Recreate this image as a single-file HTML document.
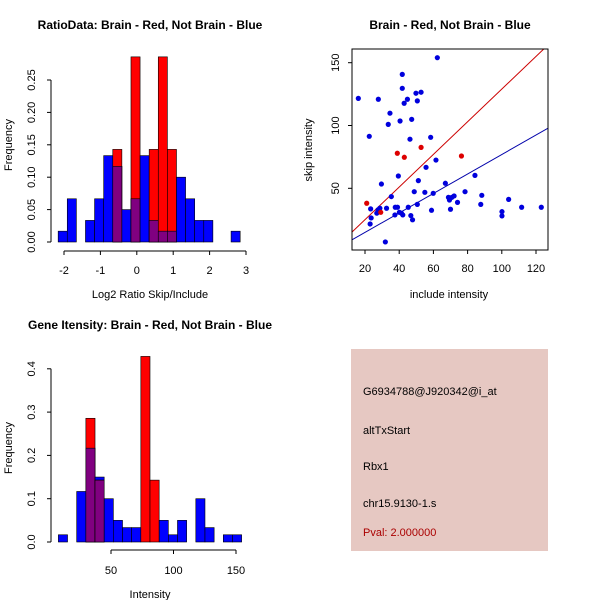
<!DOCTYPE html>
<html><head><meta charset="utf-8"><style>
body{margin:0;background:#fff}
svg{display:block;font-family:"Liberation Sans",sans-serif}
</style></head><body>
<svg id="c" width="600" height="600" viewBox="0 0 600 600"></svg>
<script>
// Ratio histogram data
const ratioStart = -2.16, ratioStep = 0.25;
const ratioBlue = [0.0167,0.0667,0,0.0333,0.0667,0.1333,0.1167,0.05,0.0667,0.1333,0.0333,0.0167,0.0167,0.1,0.0667,0.0333,0.0333,0,0,0.0167];
const ratioRed  = [0,0,0,0,0,0,0.1429,0,0.2857,0,0.1429,0.2857,0.1429,0,0,0,0,0,0,0];
const ratioXTicks = [-2,-1,0,1,2,3];
const ratioYTicks = ["0.00","0.05","0.10","0.15","0.20","0.25"];
// Intensity histogram data
const intStart = 7.9, intStep = 7.33;
const intBlue = [0.0167,0,0.1167,0.2167,0.15,0.1,0.05,0.0333,0.0333,0,0,0.05,0.0167,0.05,0,0.1,0.0333,0,0.0167,0.0167];
const intRed  = [0,0,0,0.2857,0.1429,0,0,0,0,0.4286,0.1429,0,0,0,0,0,0,0,0,0];
const intXTicks = [50,100,150];
const intYTicks = ["0.0","0.1","0.2","0.3","0.4"];
// Scatter data
const blueX = [16.1,62.3,41.8,41.8,27.8,44.8,42.9,49.8,52.8,50.6,34.6,33.6,40.5,47.3,22.5,46.3,58.4,61.5,55.7,39.5,84.3,29.6,51.2,67,48.8,55,59.9,35.4,68.8,69.4,70.8,72.1,74.1,78.5,88.3,87.7,104,27.6,28.7,32.6,37.7,39,45.3,50.6,40.1,41.3,37.5,42.1,46.8,47.8,23.3,23.6,23,26.9,58.9,70,100.1,100.1,111.6,123.1,31.9];
const blueY = [121.6,154,140.7,129.6,120.9,120.9,117.7,125.7,126.5,119.6,109.8,100.9,103.6,104.9,91.4,89.1,90.6,72.5,66.7,59.8,60.3,53.4,56.1,54,47.3,46.8,46,43.4,42.8,40.7,42.8,43.9,38.8,47.3,44.4,37.2,41.2,32.8,34.1,34.1,34.9,34.9,34.9,37.2,30.9,30.2,28.8,28.8,28.3,24.9,33.6,26.4,21.6,30.2,32.5,33.3,31.4,28,34.9,34.9,7.3];
const redX = [21,38.9,43,52.8,76.4,29.2];
const redY = [38.1,77.9,74.7,82.6,75.7,30.9];
const redFit = [-1, 1.3];   // intercept, slope
const blueFit = [-0.6, 0.775];
const scXTicks = [20,40,60,80,100,120];
const scYTicks = [50,100,150];

const svg = document.getElementById('c');
const NS = 'http://www.w3.org/2000/svg';
function mk(tag, attrs, parent){const e=document.createElementNS(NS,tag);for(const k in attrs)e.setAttribute(k,attrs[k]);(parent||svg).appendChild(e);return e;}
function txt(s,x,y,o,parent){const e=mk('text',Object.assign({x:x,y:y,'font-size':11,'text-anchor':'middle',fill:'#000'},o||{}),parent);e.textContent=s;return e;}

function hist(g, blue, red, start, step, sx, sy){
  for(let i=0;i<blue.length;i++){
    const x0=sx(start+i*step), x1=sx(start+(i+1)*step);
    const b=blue[i], r=red[i];
    if(b>0){const e=mk('rect',{x:x0,y:sy(b),width:x1-x0,height:sy(0)-sy(b),fill:'#0000ff',stroke:'#000','stroke-width':0.6},g);
      
      }
    if(r>0){const e=mk('rect',{x:x0,y:sy(r),width:x1-x0,height:sy(0)-sy(r),fill:'#ff0000',stroke:'#000','stroke-width':0.6},g);
      
      }
    const m=Math.min(b,r);
    if(m>0){const e=mk('rect',{x:x0,y:sy(m),width:x1-x0,height:sy(0)-sy(m),fill:'#800080',stroke:'#000','stroke-width':0.6},g);
      
      }
  }
}
function yAxis(g,ticks,sy,x,lx){
  const v=ticks.map(Number);
  mk('line',{x1:x,x2:x,y1:sy(v[0]),y2:sy(v[v.length-1]),stroke:'#000'},g);
  ticks.forEach((t,i)=>{const y=sy(v[i]);mk('line',{x1:x-4,x2:x,y1:y,y2:y,stroke:'#000'},g);
    txt(t,lx,y,{transform:`rotate(-90 ${lx} ${y})`},g);});
}
function xAxis(g,ticks,sx,y,ly){
  mk('line',{x1:sx(ticks[0]),x2:sx(ticks[ticks.length-1]),y1:y,y2:y,stroke:'#000'},g);
  ticks.forEach(t=>{const x=sx(t);mk('line',{x1:x,x2:x,y1:y,y2:y+4,stroke:'#000'},g);txt(String(t),x,ly,{},g);});
}

// Panel 1
{
  const g=mk('g',{});
  const sx=v=>64+(v+2)*36.4, sy=v=>242-v*648;
  hist(g,ratioBlue,ratioRed,ratioStart,ratioStep,sx,sy);
  yAxis(g,ratioYTicks,sy,51,35);
  xAxis(g,ratioXTicks,sx,251,274);
  txt('RatioData: Brain - Red, Not Brain - Blue',150,29,{'font-weight':'bold','font-size':12,},g);
  txt('Log2 Ratio Skip/Include',150,298,{},g);
  txt('Frequency',12,145,{transform:'rotate(-90 12 145)',},g);
}
// Panel 2
{
  const g=mk('g',{});
  const sx=v=>365+(v-20)*1.71, sy=v=>188.3-(v-50)*1.256;
  mk('defs',{},g).innerHTML='<clipPath id="cp"><rect x="352" y="49" width="196" height="201"/></clipPath>';
  const lg=mk('g',{'clip-path':'url(#cp)'},g);
  const fx=[10,130];
  const rl=mk('line',{x1:sx(fx[0]),x2:sx(fx[1]),y1:sy(redFit[0]+redFit[1]*fx[0]),y2:sy(redFit[0]+redFit[1]*fx[1]),stroke:'#cc0000'},lg);
  
  const bl=mk('line',{x1:sx(fx[0]),x2:sx(fx[1]),y1:sy(blueFit[0]+blueFit[1]*fx[0]),y2:sy(blueFit[0]+blueFit[1]*fx[1]),stroke:'#0000aa'},lg);
  
  blueX.forEach((x,i)=>{const c=mk('circle',{cx:sx(x),cy:sy(blueY[i]),r:2.6,fill:'#0000dd'},g);
    });
  redX.forEach((x,i)=>{const c=mk('circle',{cx:sx(x),cy:sy(redY[i]),r:2.6,fill:'#dd0000'},g);
    });
  mk('rect',{x:352,y:49,width:196,height:201,fill:'none',stroke:'#000'},g);
  scXTicks.forEach(t=>{const x=sx(t);mk('line',{x1:x,x2:x,y1:250,y2:254,stroke:'#000'},g);txt(String(t),x,272,{},g);});
  scYTicks.forEach(t=>{const y=sy(t);mk('line',{x1:348,x2:352,y1:y,y2:y,stroke:'#000'},g);txt(String(t),339,y,{transform:`rotate(-90 339 ${y})`},g);});
  txt('Brain - Red, Not Brain - Blue',450,29,{'font-weight':'bold','font-size':12,},g);
  txt('include intensity',449,298,{},g);
  txt('skip intensity',312,150,{transform:'rotate(-90 312 150)',},g);
}
// Panel 3
{
  const g=mk('g',{});
  const sx=v=>111+(v-50)*1.25, sy=v=>542-v*433;
  hist(g,intBlue,intRed,intStart,intStep,sx,sy);
  yAxis(g,intYTicks,sy,51,35);
  xAxis(g,intXTicks,sx,550,574);
  txt('Gene Itensity: Brain - Red, Not Brain - Blue',150,329,{'font-weight':'bold','font-size':12,},g);
  txt('Intensity',150,598,{},g);
  txt('Frequency',12,448,{transform:'rotate(-90 12 448)',},g);
}
// Panel 4
{
  const g=mk('g',{});
  mk('rect',{x:351,y:349,width:197,height:202,fill:'#e6c8c2'},g);
  const lines=[['G6934788@J920342@i_at',395,'#000'],['altTxStart',434,'#000'],['Rbx1',470,'#000'],['chr15.9130-1.s',507,'#000'],['Pval: 2.000000',536,'#aa0000']];
  lines.forEach(l=>txt(l[0],363,l[1],{'text-anchor':'start',fill:l[2],'font-size':11},g));
}
</script>
</body></html>
